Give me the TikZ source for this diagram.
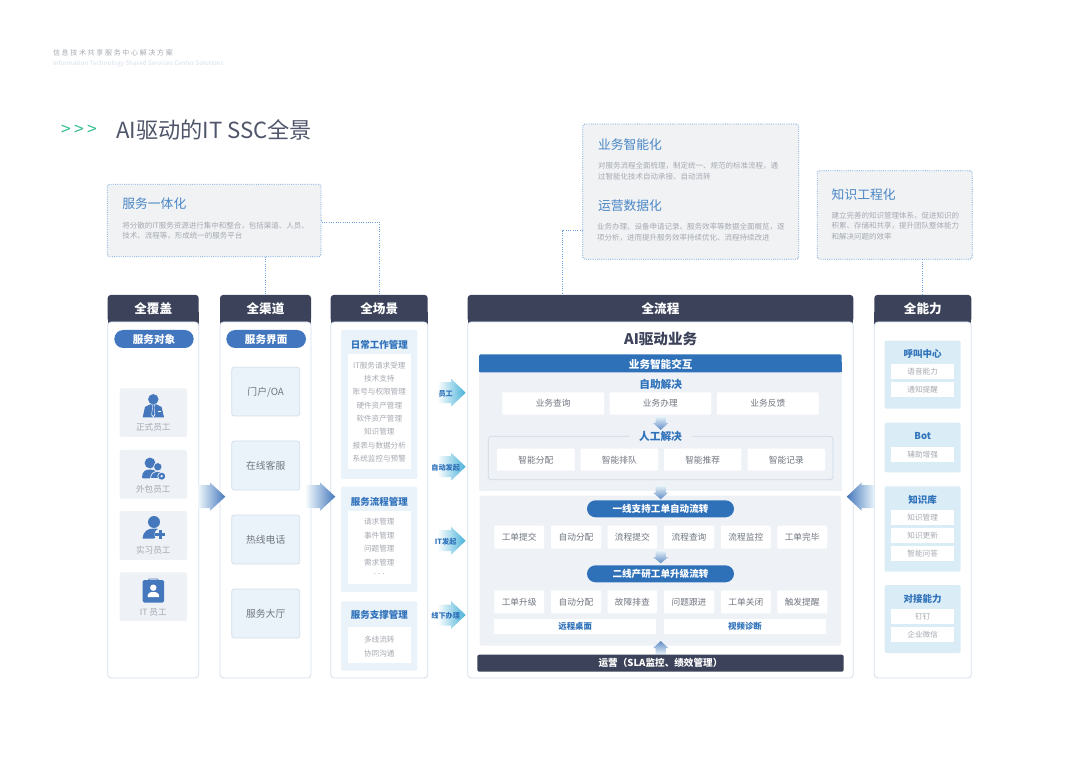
\documentclass[tikz,border=0pt]{standalone}
\usepackage{fontspec}
\setmainfont{Noto Sans CJK SC}
\usetikzlibrary{calc}
\definecolor{dark}{HTML}{3B4259}
\definecolor{tblue}{HTML}{2F72BA}
\definecolor{pillb}{HTML}{4276BF}
\definecolor{barb}{HTML}{2E71B9}
\definecolor{softt}{HTML}{4A86C5}
\definecolor{panelA}{HTML}{EAF2FA}
\definecolor{panelB}{HTML}{DAEDF6}
\definecolor{panelC}{HTML}{EEF2F7}
\definecolor{edge}{HTML}{D5DFEB}
\definecolor{noteb}{HTML}{F0F2F4}
\definecolor{dotc}{HTML}{6AA0DC}
\definecolor{greyA}{HTML}{70767F}
\definecolor{greyB}{HTML}{979BA3}
\definecolor{greyC}{HTML}{A5A9B0}
\definecolor{iconb}{HTML}{4477BC}
\definecolor{greenT}{HTML}{35BF8C}
\newcounter{nn}
\newcommand{\fz}[1]{\fontsize{#1}{#1}\selectfont}
\newcommand{\bx}[6][]{%
  \stepcounter{nn}%
  \pgfmathsetmacro{\cxx}{(#2+#4)/2}\pgfmathsetmacro{\cyy}{(#3+#5)/2}%
  \pgfmathsetmacro{\www}{abs(#4-#2)}\pgfmathsetmacro{\hhh}{abs(#5-#3)}%
  \node[inner sep=0pt,outer sep=0pt,minimum width=\www pt,minimum height=\hhh pt,name=b\thenn,#1] at (\cxx,\cyy) {\raisebox{-.38em}[0pt][0pt]{#6}};}
\newcommand{\tx}[4][]{%
  \stepcounter{nn}%
  \node[inner sep=0pt,outer sep=0pt,yshift=-.8pt,name=t\thenn,#1] at (#2,#3) {#4};}
\newcommand{\harr}[9][]{\shade[#1,left color=#8,right color=#9] (#2,#5-#7)--(#3,#5-#7)--(#3,#5-#6)--(#4,#5)--(#3,#5+#6)--(#3,#5+#7)--(#2,#5+#7)--cycle;}
\newcommand{\varr}[8]{\shade[top color=#7,bottom color=#8] (#4-#6,#1)--(#4+#6,#1)--(#4+#6,#2)--(#4+#5,#2)--(#4,#3)--(#4-#5,#2)--(#4-#6,#2)--cycle;}
\tikzset{
 note/.style={fill=noteb,draw=dotc,line width=.8pt,dash pattern=on .9pt off 1.3pt,rounded corners=2.5pt},
 link/.style={draw=dotc,line width=.7pt,dash pattern=on .9pt off 1.4pt},
 ntitle/.style={anchor=west,text=softt,font=\fz{12.8}},
 ndesc/.style={anchor=north west,align=left,text=greyC,font=\fontsize{7.5}{10.5}\selectfont},
 hdr/.style={fill=dark,rounded corners=3pt,text=white,font=\fz{12.6}\bfseries},
 colbody/.style={fill=white,draw=edge,line width=.8pt,rounded corners=3.5pt},
 pill/.style={fill=pillb,rounded corners=9pt,text=white,font=\fz{10.6}\bfseries},
 pillB/.style={fill=barb,rounded corners=8.5pt,text=white,font=\fz{9.6}\bfseries},
 card/.style={fill=panelC,rounded corners=2pt},
 cardL/.style={text=greyC,font=\fz{8.6}},
 chan/.style={fill=panelA,draw=edge,line width=.7pt,rounded corners=2.5pt,text=greyA,font=\fz{9.8}},
 panA/.style={fill=panelA,rounded corners=2pt},
 panB/.style={fill=panelB,rounded corners=2pt},
 wht/.style={fill=white},
 item/.style={text=greyC,font=\fz{7.6}},
 ptitle/.style={text=tblue,font=\fz{9.5}\bfseries},
 cell/.style={fill=white,rounded corners=1pt,text=greyA,font=\fz{8.7}},
 arrL/.style={text=tblue,font=\fz{7.2}\bfseries},
 big/.style={text=tblue,font=\fz{10.7}\bfseries},
}
\begin{document}
\begin{tikzpicture}[x=1pt,y=-1pt]
\useasboundingbox[fill=white] (0,0) rectangle (1080,759);
% page heading
\tx[anchor=west,text=greyC]{53}{52}{\fz{7}\addfontfeatures{LetterSpace=24}信息技术共享服务中心解决方案}
\tx[anchor=west,text=edge]{53}{62.7}{\fz{6.2}\addfontfeatures{LetterSpace=1.5}Information Technology Shared Services Center Solutions}
\tx[anchor=west,text=greenT]{61}{129.5}{\fz{17.5}>\kern3.5pt>\kern3.5pt>}
\tx[anchor=west,text=dark!90]{116}{129.3}{\fz{22.2}AI驱动的IT SSC全景}
% notes
\bx[note,name=svc]{107.3}{184.3}{321}{256.7}{}
\tx[ntitle]{122.3}{203}{服务一体化}
\tx[ndesc]{122.3}{221.2}{将分散的IT服务资源进行集中和整合，包括渠道、人员、\\技术、流程等，形成统一的服务平台}
\bx[note,name=biz]{582.7}{124}{798.7}{259.3}{}
\tx[ntitle]{598}{144.3}{业务智能化}
\tx[ndesc]{598}{161.7}{对服务流程全面梳理，制定统一、规范的标准流程，通\\过智能化技术自动承接、自动流转}
\tx[ntitle]{598}{205}{运营数据化}
\tx[ndesc]{597}{222.7}{业务办理、设备申请记录、服务效率等数据全面概览，逐\\项分析，进而提升服务效率持续优化、流程持续改进}
\bx[note,name=kno]{817.3}{170.7}{972.3}{259.3}{}
\tx[ntitle]{831.7}{194.3}{知识工程化}
\tx[ndesc]{831.7}{211.2}{建立完善的知识管理体系，促进知识的\\积累、存储和共享，提升团队整体能力\\和解决问题的效率}
% columns
\foreach \a/\b in {107.7/198.7,220/311,330.7/427.7,467.7/853.3,874.3/971.3}{\fill[dark] (\a,312) rectangle (\b,326);}
\bx[hdr,name=h1]{107.7}{295}{198.7}{322}{全覆盖}
\bx[hdr,name=h2]{220}{295}{311}{322}{全渠道}
\bx[hdr,name=h3]{330.7}{295}{427.7}{322}{全场景}
\bx[hdr,name=h4]{467.7}{295}{853.3}{322}{全流程}
\bx[hdr,name=h5]{874.3}{295}{971.3}{322}{全能力}
\bx[colbody]{107.7}{322}{198.7}{678}{}
\bx[colbody]{220}{322}{311}{678}{}
\bx[colbody]{330.7}{322}{427.7}{678}{}
\bx[colbody]{467.7}{322}{853.3}{678}{}
\bx[colbody]{874.3}{322}{971.3}{678}{}
% dotted connectors
\coordinate (c1) at (582.7,230.7);
\coordinate (c2) at (562,295);
\draw[link] (svc.south -| h2.north) -- (h2.north);
\draw[link] (svc.east) -- ($(svc.east)+(0,1.5)$) -| (h3.north);
\draw[link] (c1) -| (c2);
\draw[link] (kno.south -| h5.north) -- (h5.north);
% column 1
\bx[pill]{114.3}{330}{193.7}{348}{服务对象}
\bx[card]{119.7}{388.3}{187}{437}{}
\bx[card]{119.7}{450}{187}{498.7}{}
\bx[card]{119.7}{511}{187}{560}{}
\bx[card]{119.7}{572.3}{187}{621}{}
\tx[cardL]{153.3}{426.7}{正式员工}
\tx[cardL]{153.3}{488}{外包员工}
\tx[cardL]{153.3}{549.3}{实习员工}
\tx[cardL]{153.3}{611.7}{IT 员工}
% icons
\fill[iconb] (153.3,399.3) circle (5.2);
\fill[iconb] (142.7,417.3) -- (145,407) -- (150,404.5) -- (156.6,404.5) -- (161.6,407) -- (164,417.3) -- cycle;
\fill[white] (151.6,404.5) -- (155,404.5) -- (154.2,407) -- (155.2,415) -- (153.3,417.3) -- (151.4,415) -- (152.4,407) -- cycle;
\fill[iconb] (152.3,404.5) -- (154.3,404.5) -- (153.8,407) -- (154.6,414) -- (153.3,416.3) -- (152,414) -- (152.8,407) -- cycle;
\fill[white] (157.5,411.5) rectangle (160.5,412.3);
\fill[iconb] (150,463) circle (5.4);
\fill[iconb] (142,477.5) .. controls (142,471) and (146,469.5) .. (150,469.5) .. controls (153,469.5) and (155,470) .. (156,472) -- (154,478.5) -- (143,478.5) -- cycle;
\fill[iconb,draw=panelC,line width=.7pt] (157.8,466.8) circle (4.2);
\fill[iconb,draw=panelC,line width=.7pt] (150.5,478.6) .. controls (150.5,473.5) and (154,471.5) .. (157.5,471.5) .. controls (161,471.5) and (164,473) .. (164,476) -- (160,478.6) -- cycle;
\fill[iconb,draw=panelC,line width=.7pt] (161.7,476.2) circle (4);
\fill[panelC] (161.7,476.2) circle (1.3);
\fill[iconb] (154,522) circle (6);
\fill[iconb] (142.7,538.6) .. controls (143,531) and (148,528.5) .. (154,528.5) .. controls (158,528.5) and (161,529.5) .. (162,532) -- (154,538.6) -- cycle;
\fill[panelC] (160.3,534.5) circle (5.8);
\fill[iconb] (158.8,529.5) rectangle (161.6,539);
\fill[iconb] (155.3,532.9) rectangle (165,535.7);
\fill[iconb,rounded corners=1.5pt] (142.7,580) rectangle (164,602.7);
\draw[iconb,line width=.8pt,rounded corners=1pt] (148.5,581) -- (148.5,578.9) -- (158.3,578.9) -- (158.3,581);
\fill[white] (153.3,587.7) circle (3.2);
\fill[white] (147.5,597) .. controls (147.5,593) and (150,592) .. (153.3,592) .. controls (156.6,592) and (159.2,593) .. (159.2,597) -- cycle;
% column 2
\bx[pill]{226.3}{330}{306}{348}{服务界面}
\bx[chan]{231.7}{367.3}{299.7}{416}{门户/OA}
\bx[chan]{231.7}{441}{299.7}{490}{在线客服}
\bx[chan]{231.7}{515}{299.7}{564}{热线电话}
\bx[chan]{231.7}{589}{299.7}{638}{服务大厅}
% big arrows
\harr[middle color=panelB!80!iconb]{198}{210}{225.3}{496.7}{14.2}{11.5}{panelB!40}{iconb}
\harr[middle color=panelB!80!iconb]{306.7}{320}{335.3}{496.7}{14.2}{11.5}{panelB!40}{iconb}
\shade[left color=iconb,middle color=panelB!80!iconb,right color=panelB!60] (874.3,485.2)--(861.7,485.2)--(861.7,482.5)--(846.7,496.7)--(861.7,510.9)--(861.7,508.2)--(874.3,508.2)--cycle;
% column 3
\bx[panA]{341}{330}{417.3}{479}{}
\bx[panA]{341}{486.7}{417.3}{592}{}
\bx[panA]{341}{601.3}{417.3}{670.7}{}
\bx[wht]{347.7}{354}{411}{469.3}{}
\bx[wht]{347.7}{510.7}{411}{584}{}
\bx[wht]{347.7}{626.7}{411}{662.7}{}
\tx[ptitle]{379.3}{344}{日常工作管理}
\tx[ptitle]{379.3}{500.7}{服务流程管理}
\tx[ptitle]{379.3}{614.3}{服务支撑管理}
\tx[item]{379.3}{364.7}{IT服务请求受理}
\tx[item]{379.3}{378}{技术支持}
\tx[item]{379.3}{391.3}{账号与权限管理}
\tx[item]{379.3}{404.7}{硬件资产管理}
\tx[item]{379.3}{418}{软件资产管理}
\tx[item]{379.3}{431.3}{知识管理}
\tx[item]{379.3}{444.7}{报表与数据分析}
\tx[item]{379.3}{458}{系统监控与预警}
\tx[item]{379.3}{521}{请求管理}
\tx[item]{379.3}{534.5}{事件管理}
\tx[item]{379.3}{548}{问题管理}
\tx[item]{379.3}{561.5}{需求管理}
\tx[item]{379.3}{573}{. . .}
\tx[item]{379.3}{639}{多线流转}
\tx[item]{379.3}{652.5}{协同沟通}
% small side arrows
\foreach \yy in {392.7,466.7,540.7,615}{\harr{437.3}{451}{465.7}{\yy}{14}{10.5}{white}{panelB!35!cyan!45!iconb}}
\tx[arrL]{445.7}{392.7}{员工}
\tx[arrL]{445.7}{466.7}{自动发起}
\tx[arrL]{445.7}{540.7}{IT发起}
\tx[arrL]{445.7}{615}{线下办理}
% column 4
\tx[text=dark,font=\fz{14.6}\bfseries]{660.7}{338.3}{AI驱动业务}
\fill[panelC] (479,366) rectangle (841.7,491);
\fill[barb,rounded corners=1.5pt] (479,354.3) rectangle (841.7,372.3);
\fill[barb] (479,362) rectangle (841.7,372.3);
\tx[text=white,font=\fz{10.6}\bfseries]{660.7}{363.3}{业务智能交互}
\tx[big]{660.7}{383.7}{自助解决}
\bx[cell]{502.3}{392.3}{604}{414.7}{业务查询}
\bx[cell]{609.7}{392.3}{711}{414.7}{业务办理}
\bx[cell]{717}{392.3}{818.7}{414.7}{业务反馈}
\draw[edge!85!greyC,line width=.7pt,rounded corners=3pt] (488.3,436.3) rectangle (833,479.7);
\bx[fill=panelC,big]{629}{430}{692}{443.5}{人工解决}
\bx[cell]{497}{448.7}{574.7}{470.7}{智能分配}
\bx[cell]{580.7}{448.7}{658}{470.7}{智能排队}
\bx[cell]{664}{448.7}{741.3}{470.7}{智能推荐}
\bx[cell]{747.7}{448.7}{825}{470.7}{智能记录}
\bx[fill=panelC,rounded corners=2pt]{479.7}{495.7}{841}{645.7}{}
\bx[pillB]{587}{500.3}{734}{517.3}{一线支持工单自动流转}
\bx[pillB]{587}{565.3}{734}{582.3}{二线产研工单升级流转}
\bx[cell]{494.3}{525.7}{544}{548.7}{工单提交}
\bx[cell]{551}{525.7}{601}{548.7}{自动分配}
\bx[cell]{607.7}{525.7}{657}{548.7}{流程提交}
\bx[cell]{664}{525.7}{714}{548.7}{流程查询}
\bx[cell]{721}{525.7}{770.7}{548.7}{流程监控}
\bx[cell]{777.3}{525.7}{827}{548.7}{工单完毕}
\bx[cell]{494.3}{590.3}{544}{613.3}{工单升级}
\bx[cell]{551}{590.3}{601}{613.3}{自动分配}
\bx[cell]{607.7}{590.3}{657}{613.3}{故障排查}
\bx[cell]{664}{590.3}{714}{613.3}{问题跟进}
\bx[cell]{721}{590.3}{770.7}{613.3}{工单关闭}
\bx[cell]{777.3}{590.3}{827}{613.3}{触发提醒}
\bx[cell,rounded corners=0pt,text=tblue,font=\fz{8.4}\bfseries]{494.3}{619}{656}{634.3}{远程桌面}
\bx[cell,rounded corners=0pt,text=tblue,font=\fz{8.4}\bfseries]{664}{619}{826}{634.3}{视频诊断}
\varr{416}{423}{430}{660.7}{7.6}{5.2}{panelB!50}{iconb!85}
\varr{485}{492.5}{499.3}{660.7}{7.6}{5.2}{panelB!50}{iconb!85}
\varr{550}{557}{563.3}{660.7}{7.6}{5.2}{panelB!50}{iconb!85}
\shade[top color=iconb!85,bottom color=panelB!50] (655.5,654.7)--(665.9,654.7)--(665.9,648)--(668.3,648)--(660.7,641)--(653.1,648)--(655.5,648)--cycle;
\bx[fill=dark,rounded corners=2pt,text=white,font=\fz{9.6}\bfseries]{477.3}{654.7}{843.7}{671.7}{运营（SLA监控、绩效管理）}
% column 5
\bx[panB]{884.7}{340.7}{960.7}{408.7}{}
\bx[panB]{884.7}{422.7}{960.7}{472.3}{}
\bx[panB]{884.7}{486.3}{960.7}{571.7}{}
\bx[panB]{884.7}{585}{960.7}{653}{}
\tx[ptitle]{922.7}{353.3}{呼叫中心}
\tx[ptitle]{922.7}{435.7}{Bot}
\tx[ptitle]{922.7}{499.3}{知识库}
\tx[ptitle]{922.7}{598.3}{对接能力}
\bx[wht,item]{891}{364.3}{954.3}{379.3}{语音能力}
\bx[wht,item]{891}{382}{954.3}{397}{通知提醒}
\bx[wht,item]{891}{446.7}{954.3}{461.7}{辅助增强}
\bx[wht,item]{891}{510.3}{954.3}{525.3}{知识管理}
\bx[wht,item]{891}{528}{954.3}{543}{知识更新}
\bx[wht,item]{891}{545.7}{954.3}{560.7}{智能问答}
\bx[wht,item]{891}{609.3}{954.3}{624.3}{钉钉}
\bx[wht,item]{891}{627}{954.3}{642}{企业微信}
\end{tikzpicture}
\end{document}
